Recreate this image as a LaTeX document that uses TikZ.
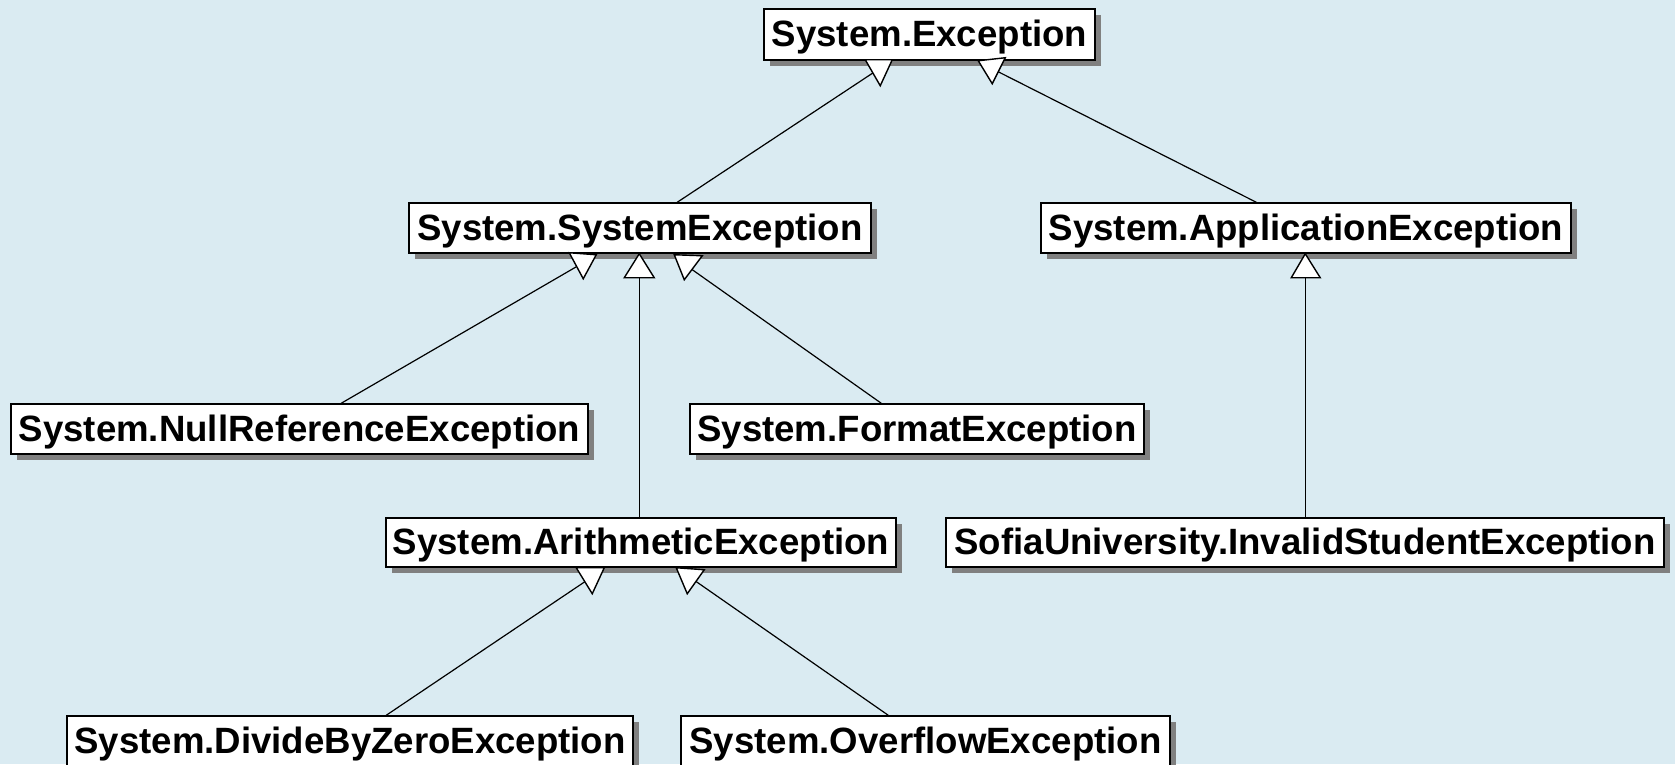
\documentclass[tikz,border=0pt]{standalone}
\usepackage{fontspec}
\setmainfont{Liberation Sans}
\usetikzlibrary{calc,shadows}
\definecolor{bgblue}{RGB}{218,235,242}
\definecolor{shadowgray}{RGB}{128,128,128}
\begin{document}
\begin{tikzpicture}[x=1pt,y=-1pt,
  cls/.style={draw=black, line width=1.5pt, fill=white, inner sep=0pt,
    font=\bfseries\fontsize{36.6pt}{40pt}\selectfont, text height=24.5pt, text depth=0pt,
    general shadow={fill=shadowgray, shadow xshift=6pt, shadow yshift=-6pt}},
  conn/.style={draw=black, line width=1.2pt},
  tri/.style={draw=black, fill=white, line width=1.4pt, line join=miter}]
\useasboundingbox (0,0) rectangle (1675,764);
\clip (0,0) rectangle (1675,764);
\fill[bgblue] (0,0) rectangle (1675,764);

% classes
\node[cls, minimum width=331pt, minimum height=51pt] (exc) at (929.5,34.5) {System.Exception};
\node[cls, minimum width=462pt, minimum height=50pt] (sys) at (640,228) {System.SystemException};
\node[cls, minimum width=530pt, minimum height=50pt] (app) at (1306,228) {System.ApplicationException};
\node[cls, minimum width=577pt, minimum height=50pt] (null) at (299.5,429) {System.NullReferenceException};
\node[cls, minimum width=454pt, minimum height=50pt] (fmt) at (917,429) {System.FormatException};
\node[cls, minimum width=510pt, minimum height=49pt] (ari) at (641,542.5) {System.ArithmeticException};
\node[cls, minimum width=718pt, minimum height=49pt] (sofia) at (1305,542.5) {SofiaUniversity.InvalidStudentException};
\node[cls, minimum width=566pt, minimum height=50pt] (div) at (350,741) {System.DivideByZeroException};
\node[cls, minimum width=489pt, minimum height=50pt] (ovf) at (925.5,741) {System.OverflowException};

% connector end points (inside the triangles)
\coordinate (e1) at ($(exc.south west)+(116,8)$);
\coordinate (e2) at ($(exc.south west)+(229,8)$);
\coordinate (s1) at ($(sys.south west)+(175,9)$);
\coordinate (s2) at ($(sys.south west)+(231,24)$);
\coordinate (s3) at ($(sys.south west)+(277,11)$);
\coordinate (a1) at ($(app.south west)+(265,24)$);
\coordinate (r1) at ($(ari.south west)+(204,11)$);
\coordinate (r2) at ($(ari.south west)+(304,9)$);

% connectors
\draw[conn] ($(sys.north west)+(269,0)$) -- (e1);
\draw[conn] ($(app.north west)+(216,0)$) -- (e2);
\draw[conn] ($(null.north west)+(331,0)$) -- (s1);
\draw[conn] (s2 |- ari.north) -- (s2);
\draw[conn] ($(fmt.north west)+(192,0)$) -- (s3);
\draw[conn] (a1 |- sofia.north) -- (a1);
\draw[conn] ($(div.north west)+(320,0)$) -- (r1);
\draw[conn] ($(ovf.north west)+(208,0)$) -- (r2);

% triangles
\draw[tri] ($(exc.south west)+(102,-1)$) -- ($(exc.south west)+(129,-1)$) -- ($(exc.south west)+(117,25)$) -- cycle;
\draw[tri] ($(exc.south west)+(215,0)$) -- ($(exc.south west)+(242,-3)$) -- ($(exc.south west)+(229,23)$) -- cycle;
\draw[tri] ($(sys.south west)+(161,-1)$) -- ($(sys.south west)+(188,1)$) -- ($(sys.south west)+(175,25)$) -- cycle;
\draw[tri] ($(sys.south west)+(231,0)$) -- ($(sys.south west)+(246,24)$) -- ($(sys.south west)+(216,24)$) -- cycle;
\draw[tri] ($(sys.south west)+(266,1)$) -- ($(sys.south west)+(294,2)$) -- ($(sys.south west)+(276,26)$) -- cycle;
\draw[tri] ($(app.south west)+(265,0)$) -- ($(app.south west)+(280,24)$) -- ($(app.south west)+(251,24)$) -- cycle;
\draw[tri] ($(ari.south west)+(191,0)$) -- ($(ari.south west)+(219,0)$) -- ($(ari.south west)+(207,26)$) -- cycle;
\draw[tri] ($(ari.south west)+(291,0)$) -- ($(ari.south west)+(319,2)$) -- ($(ari.south west)+(302,26)$) -- cycle;
\end{tikzpicture}
\end{document}
